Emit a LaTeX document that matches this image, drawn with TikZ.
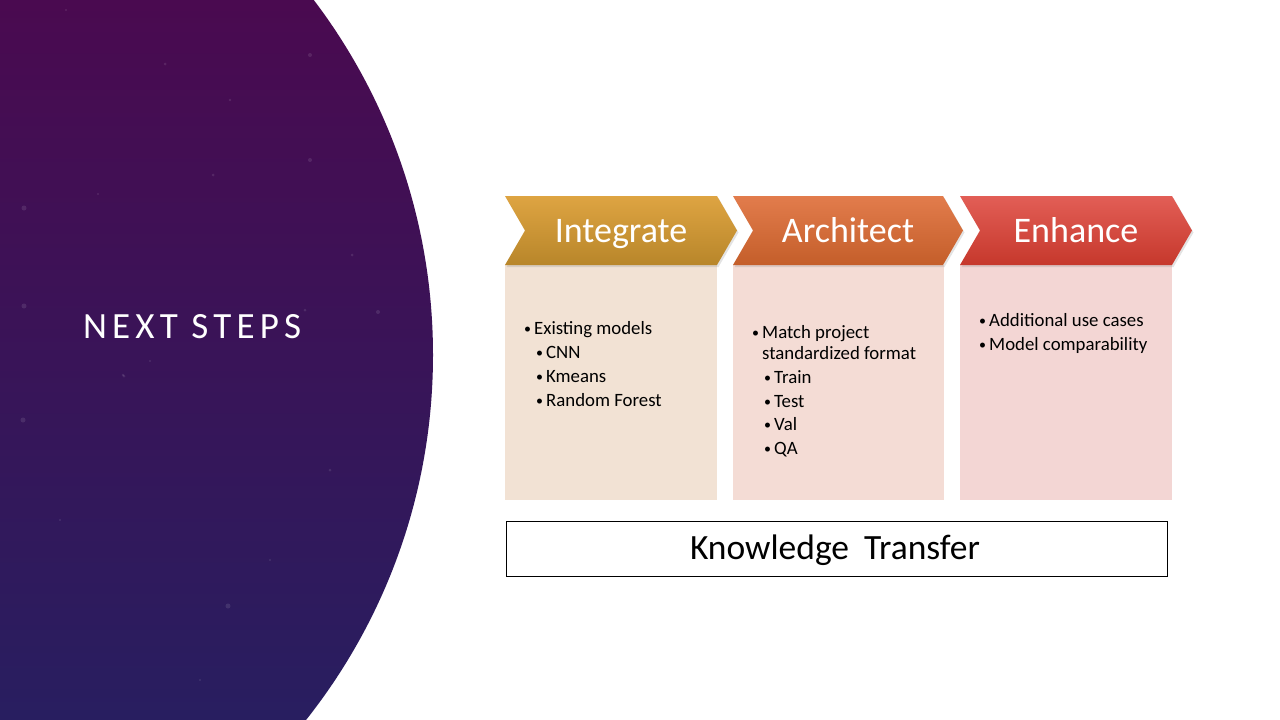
\documentclass[tikz,border=0pt]{standalone}
\usepackage{fontspec}
\setmainfont{Carlito}
\usetikzlibrary{shadows}

\definecolor{panelTop}{RGB}{74,10,80}
\definecolor{panelMid}{RGB}{68,14,88}
\definecolor{panelBot}{RGB}{40,30,96}
\definecolor{intTop}{RGB}{222,164,66}
\definecolor{intBot}{RGB}{184,134,42}
\definecolor{arcTop}{RGB}{226,124,76}
\definecolor{arcBot}{RGB}{196,94,42}
\definecolor{enhTop}{RGB}{226,94,86}
\definecolor{enhBot}{RGB}{198,56,44}
\definecolor{intBox}{RGB}{242,226,212}
\definecolor{arcBox}{RGB}{244,220,213}
\definecolor{enhBox}{RGB}{243,214,212}

\tikzset{
  chevshape/.style={draw=none, drop shadow={opacity=0.22, shadow xshift=1.5pt, shadow yshift=-2pt}},
  chevlabel/.style={text=white, font=\fontsize{36}{40}\selectfont, inner sep=0pt, anchor=base},
  listline/.style={anchor=base west, inner sep=0pt, font=\fontsize{18.8}{22}\selectfont},
}
% small list bullet followed by a fixed gap
\newcommand{\bl}[1]{\makebox[#1pt][l]{\raisebox{0.5pt}{\fontsize{14}{14}\selectfont\textbullet}}}

\begin{document}
\begin{tikzpicture}[x=1pt,y=-1pt]
\useasboundingbox (0,0) rectangle (1280,720);
\fill[white] (0,0) rectangle (1280,720);

% purple title panel bounded by a large arc
\begin{scope}
  \clip (-155,355) circle (588pt);
  \shade[top color=panelTop, middle color=panelMid, bottom color=panelBot] (0,0) rectangle (470,720);
  % faint speckles
  \foreach \px/\py/\pr in {66/10/1.2, 165/64/1.5, 230/100/1.4, 310/55/2, 390/120/2.5, 24/208/2.5,
      98/194/1.2, 213/175/1.5, 310/160/2, 412/168/2.5, 352/255/1.5, 24/306/2.5, 23/420/2.5,
      123/375/1.4, 305/310/1.5, 378/312/2, 150/361/1.2, 228/606/2.5, 124/376/1.5, 60/520/1.2,
      270/560/1.2, 330/470/1.5, 200/680/1.2} {
    \fill[white, opacity=0.10] (\px,\py) circle (\pr pt);
  }
\end{scope}
\node[text=white, anchor=base west, inner sep=0pt, font=\fontsize{37}{40}\selectfont\addfontfeature{LetterSpace=14}] (title) at (83,338) {NEXT STEPS};

% text panels under the chevrons
\fill[intBox] (505,265) rectangle (717,500);
\fill[arcBox] (733,265) rectangle (944,500);
\fill[enhBox] (960,265) rectangle (1172,500);

% chevrons
\path[chevshape, top color=intTop, bottom color=intBot]
  (505,196) -- (717,196) -- (737,230.5) -- (717,265) -- (505,265) -- (525,230.5) -- cycle;
\path[chevshape, top color=arcTop, bottom color=arcBot]
  (733,196) -- (943,196) -- (963,230.5) -- (943,265) -- (733,265) -- (753,230.5) -- cycle;
\path[chevshape, top color=enhTop, bottom color=enhBot]
  (960,196) -- (1172,196) -- (1192,230.5) -- (1172,265) -- (960,265) -- (980,230.5) -- cycle;

\node[chevlabel] (integrate) at (621,242) {Integrate};
\node[chevlabel] (architect) at (848,242) {Architect};
\node[chevlabel] (enhance) at (1076,242) {Enhance};

% Integrate list
\node[listline] (i1) at (524,334) {\bl{10}Existing models};
\node[listline] (i2) at (536,358) {\bl{10}CNN};
\node[listline] (i3) at (536,382) {\bl{10}Kmeans};
\node[listline] (i4) at (536,406) {\bl{10}Random Forest};

% Architect list
\node[listline] (a1) at (752,338) {\bl{10}Match project};
\node[listline] (a2) at (762,359) {standardized format};
\node[listline] (a3) at (764,383) {\bl{10}Train};
\node[listline] (a4) at (764,407) {\bl{10}Test};
\node[listline] (a5) at (764,430) {\bl{10}Val};
\node[listline] (a6) at (764,454) {\bl{10}QA};

% Enhance list
\node[listline] (e1) at (979,326) {\bl{10}Additional use cases};
\node[listline] (e2) at (979,350) {\bl{10}Model comparability};

% bottom banner
\node[draw=black, line width=0.9pt, minimum width=661pt, minimum height=55pt, inner sep=0pt, anchor=north west] (kt) at (505.5,520.5) {};
\node[anchor=base, inner sep=0pt, font=\fontsize{35.5}{40}\selectfont] (ktlabel) at (835,559) {Knowledge\hspace{0.42em}Transfer};
\end{tikzpicture}
\end{document}
